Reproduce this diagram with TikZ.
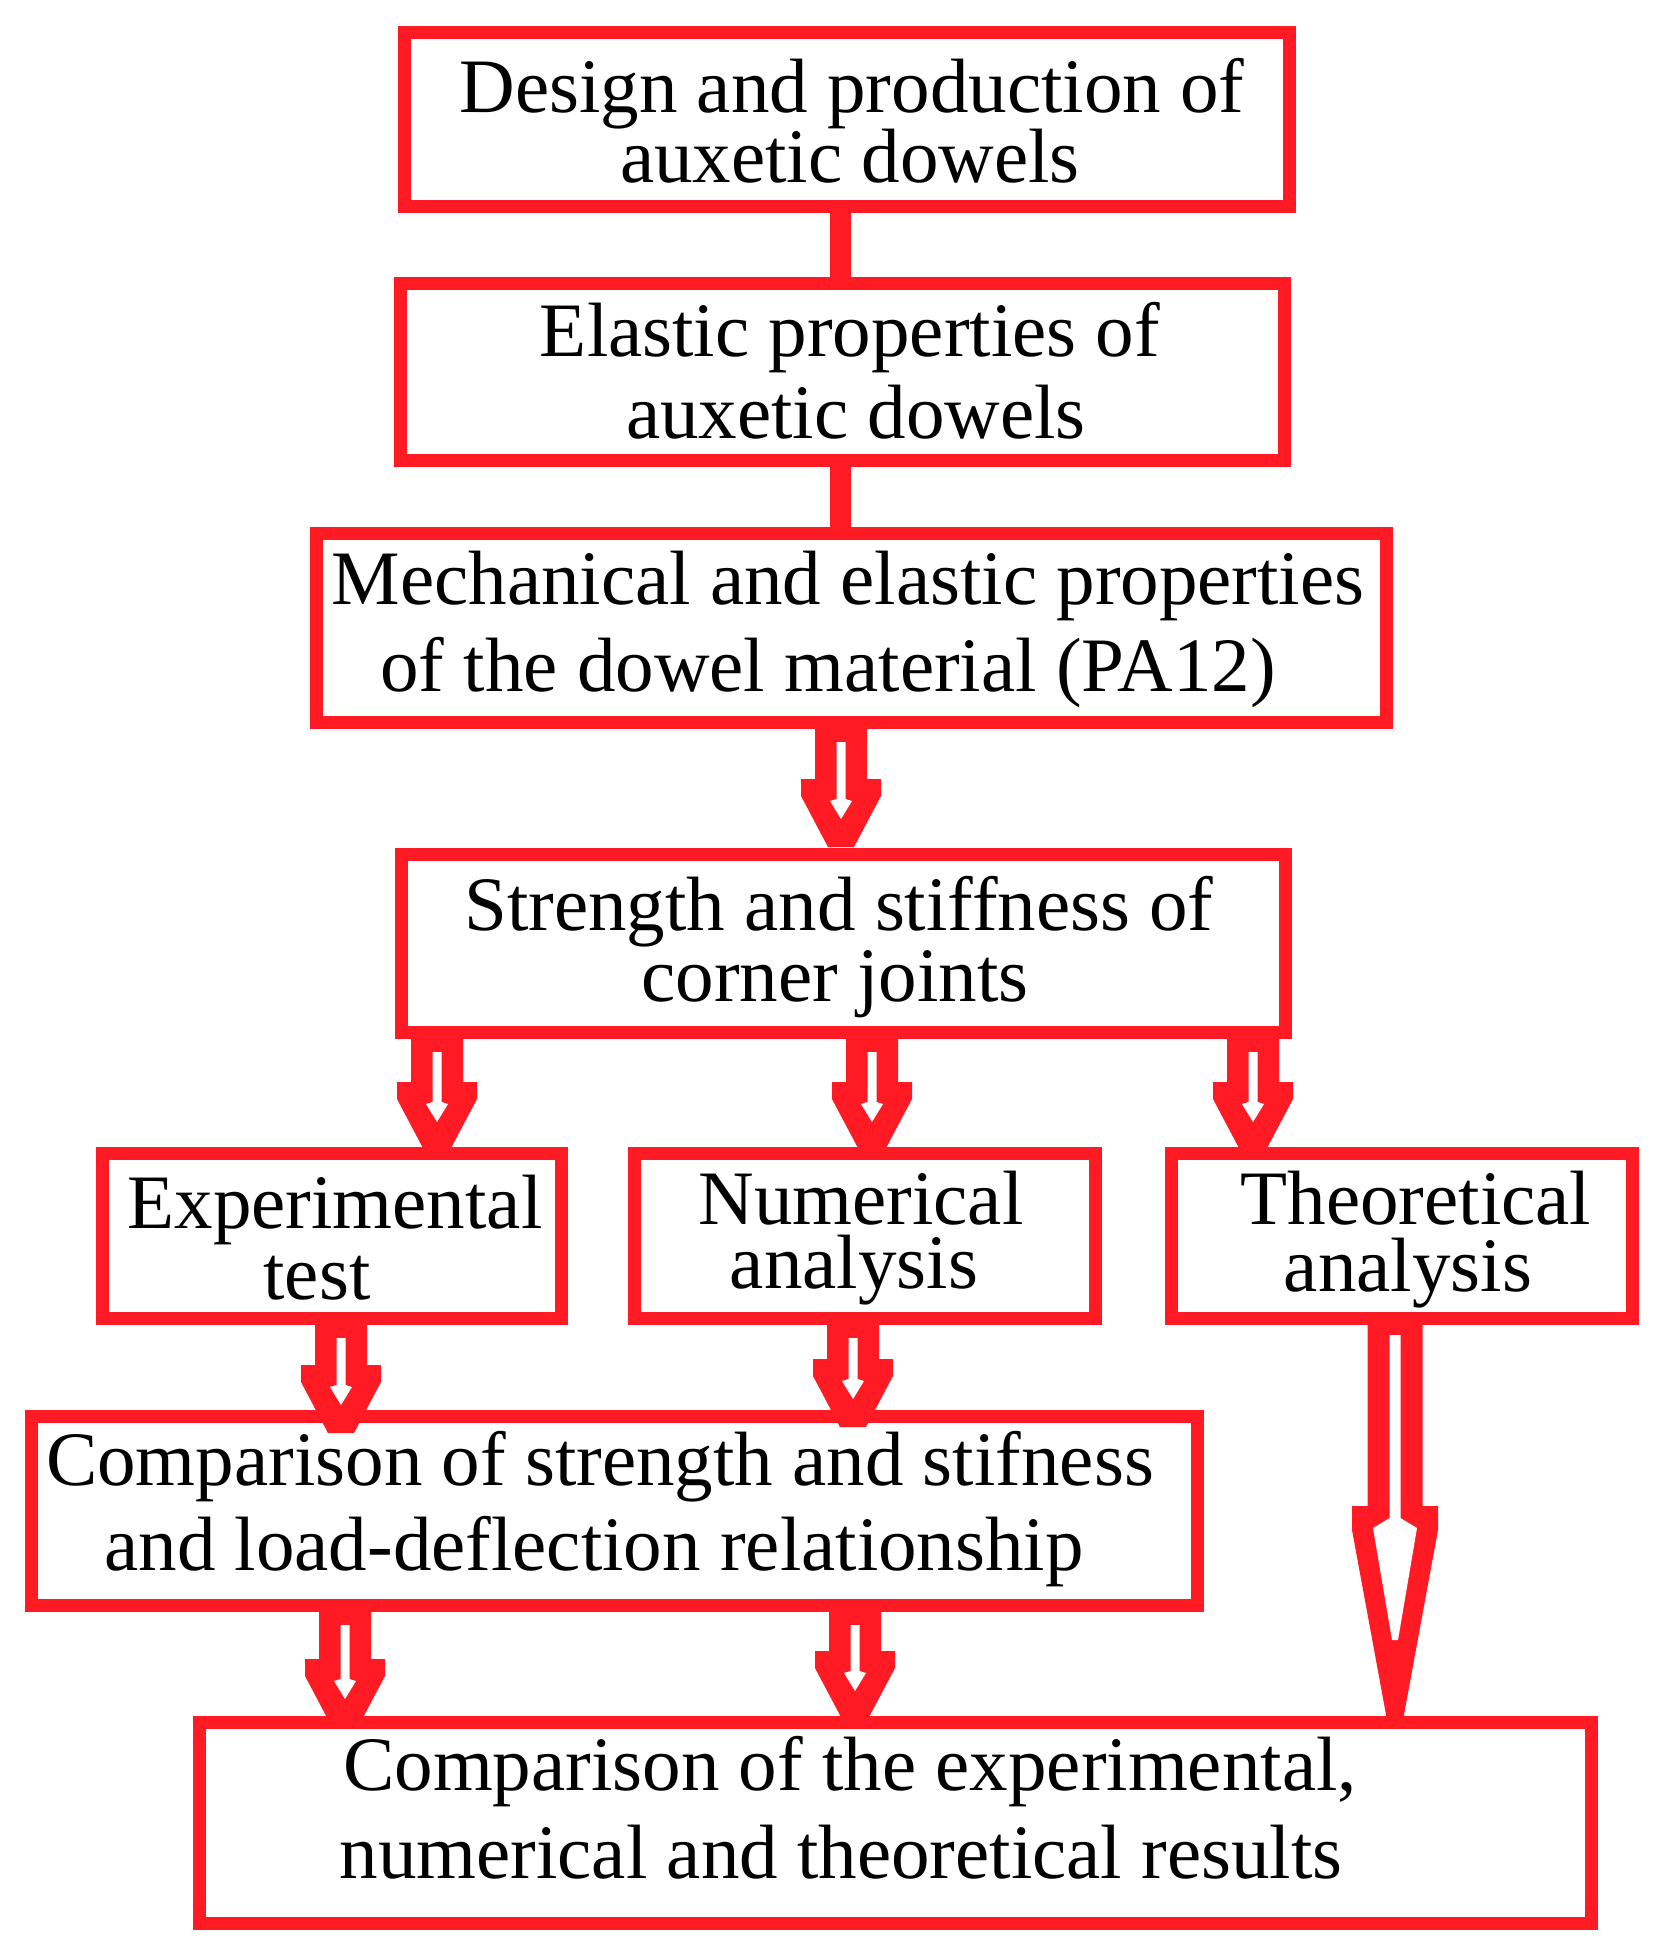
\documentclass[tikz,border=0pt]{standalone}
\usepackage{fontspec}
\setmainfont{Liberation Serif}
\definecolor{myred}{RGB}{255,26,36}
\newcommand\smallarrow[3]{%
  \begin{scope}[shift={(#1.south -| #2)}]
    \fill[myred] (-26,-7) -- (-26,#3) -- (-40,#3) -- (-40,#3+17) -- (-13,#3+68) -- (13,#3+68) -- (40,#3+17) -- (40,#3) -- (26,#3) -- (26,-7) -- cycle;
    \fill[white] (-4.5,13) -- (-4.5,#3+20) -- (-11,#3+22) -- (0,#3+40) -- (11,#3+22) -- (4.5,#3+20) -- (4.5,13) -- cycle;
  \end{scope}}
\begin{document}
\begin{tikzpicture}[x=1pt,y=-1pt,
  box/.style={draw=myred,line width=13pt,fill=white,inner sep=0pt,outer sep=6.5pt},
  lbl/.style={anchor=base,inner sep=0pt,font=\fontsize{77}{77}\selectfont},
  link/.style={draw=myred,line width=21pt}]
\useasboundingbox[fill=white] (0,0) rectangle (1670,1959);
% boxes
\node[box,minimum width=885pt,minimum height=174pt] (b1) at (847,119.5) {};
\node[box,minimum width=884pt,minimum height=177pt] (b2) at (842.5,372) {};
\node[box,minimum width=1070pt,minimum height=189pt] (b3) at (851.5,628) {};
\node[box,minimum width=884pt,minimum height=178pt] (b4) at (843,943.5) {};
\node[box,minimum width=459pt,minimum height=165pt] (b5) at (332,1236) {};
\node[box,minimum width=461pt,minimum height=165pt] (b6) at (865,1236) {};
\node[box,minimum width=461pt,minimum height=165pt] (b7) at (1402,1236) {};
\node[box,minimum width=1166pt,minimum height=189pt] (b8) at (614.5,1511) {};
\node[box,minimum width=1392pt,minimum height=201pt] (b9) at (895.5,1823) {};
% x positions of connectors
\coordinate (cx0) at (840,0);
\coordinate (cx1) at (841,0);
\coordinate (cx2) at (437,0);
\coordinate (cx3) at (872,0);
\coordinate (cx4) at (1253,0);
\coordinate (cx5) at (341,0);
\coordinate (cx6) at (853,0);
\coordinate (cx7) at (345,0);
\coordinate (cx8) at (855,0);
\coordinate (cx9) at (1395,0);
% plain links
\path[link] (b1.south -| cx0) -- (b2.north -| cx0);
\path[link] (b2.south -| cx0) -- (b3.north -| cx0);
% hollow arrows
\smallarrow{b3}{cx1}{50}
\smallarrow{b4}{cx2}{43}
\smallarrow{b4}{cx3}{43}
\smallarrow{b4}{cx4}{43}
\smallarrow{b5}{cx5}{40}
\smallarrow{b6}{cx6}{34}
\smallarrow{b8}{cx7}{47}
\smallarrow{b8}{cx8}{39}
\begin{scope}[shift={(b7.south -| cx9)}]
  \fill[myred] (-27.5,-7) -- (-27.5,181) -- (-43,181) -- (-43,205) -- (-8,395) -- (8,395) -- (43,205) -- (43,181) -- (27.5,181) -- (27.5,-7) -- cycle;
  \fill[white] (-5.5,10) -- (-5.5,193) -- (-22,203) -- (-3,315) -- (3,315) -- (22,203) -- (5.5,193) -- (5.5,10) -- cycle;
\end{scope}
% texts
\node[lbl] (t1a) at (852,112) {Design and production of};
\node[lbl] (t1b) at (850,182) {auxetic dowels};
\node[lbl] (t2a) at (850,356) {Elastic properties of};
\node[lbl] (t2b) at (856,438) {auxetic dowels};
\node[lbl] (t3a) at (848,604) {Mechanical and elastic properties};
\node[lbl] (t3b) at (828,691) {of the dowel material (PA12)};
\node[lbl] (t4a) at (839,930) {Strength and stiffness of};
\node[lbl] (t4b) at (835,1001) {corner joints};
\node[lbl] (t5a) at (335,1228) {Experimental};
\node[lbl] (t5b) at (317,1299) {test};
\node[lbl] (t6a) at (861,1224) {Numerical};
\node[lbl] (t6b) at (854,1288) {analysis};
\node[lbl] (t7a) at (1416,1224) {Theoretical};
\node[lbl] (t7b) at (1408,1291) {analysis};
\node[lbl] (t8a) at (600,1485) {Comparison of strength and stifness};
\node[lbl] (t8b) at (594,1570) {and load-deflection relationship};
\node[lbl] (t9a) at (850,1790) {Comparison of the experimental,};
\node[lbl] (t9b) at (841,1878) {numerical and theoretical results};
\end{tikzpicture}
\end{document}
